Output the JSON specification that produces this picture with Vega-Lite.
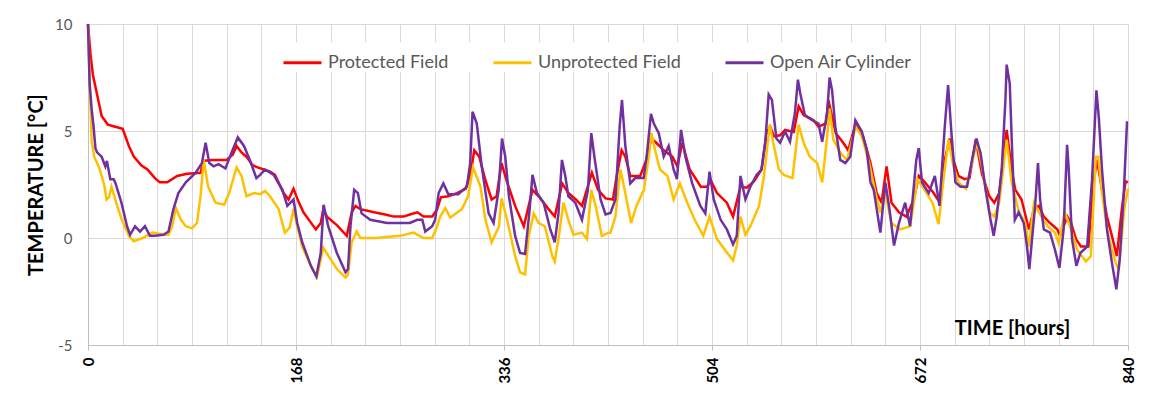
{
"$schema":"https://vega.github.io/schema/vega-lite/v6.json",
"width":1040,"height":321,
"autosize":"none",
"padding":{"left":88,"top":24,"right":37,"bottom":63},
"background":"white",
"config":{"view":{"stroke":null},"font":"Lato"},
"datasets":{
"protected":[{"hour":0,"temp":10},{"hour":2,"temp":8.6},{"hour":4,"temp":7.6},{"hour":7,"temp":6.8},{"hour":11,"temp":5.7},{"hour":16,"temp":5.3},{"hour":22,"temp":5.2},{"hour":28,"temp":5.1},{"hour":33,"temp":4.3},{"hour":37,"temp":3.8},{"hour":43,"temp":3.4},{"hour":48,"temp":3.2},{"hour":54,"temp":2.8},{"hour":58,"temp":2.6},{"hour":64,"temp":2.6},{"hour":72,"temp":2.9},{"hour":80,"temp":3.0},{"hour":91,"temp":3.05},{"hour":93,"temp":3.6},{"hour":100,"temp":3.65},{"hour":112,"temp":3.65},{"hour":117,"temp":3.9},{"hour":120,"temp":4.3},{"hour":124,"temp":4.0},{"hour":128,"temp":3.8},{"hour":133,"temp":3.4},{"hour":137,"temp":3.3},{"hour":142,"temp":3.2},{"hour":147,"temp":3.1},{"hour":151,"temp":2.95},{"hour":158,"temp":2.1},{"hour":162,"temp":1.8},{"hour":166,"temp":2.3},{"hour":170,"temp":1.7},{"hour":174,"temp":1.2},{"hour":179,"temp":0.8},{"hour":184,"temp":0.4},{"hour":188,"temp":0.7},{"hour":190,"temp":1.35},{"hour":193,"temp":1.0},{"hour":201,"temp":0.6},{"hour":209,"temp":0.1},{"hour":213,"temp":1.2},{"hour":216,"temp":1.5},{"hour":220,"temp":1.35},{"hour":231,"temp":1.2},{"hour":240,"temp":1.1},{"hour":247,"temp":1.0},{"hour":255,"temp":1.0},{"hour":260,"temp":1.1},{"hour":266,"temp":1.2},{"hour":271,"temp":1.0},{"hour":278,"temp":1.0},{"hour":282,"temp":1.35},{"hour":285,"temp":1.9},{"hour":291,"temp":1.95},{"hour":298,"temp":2.1},{"hour":305,"temp":2.3},{"hour":309,"temp":3.0},{"hour":312,"temp":4.1},{"hour":316,"temp":3.8},{"hour":321,"temp":2.7},{"hour":326,"temp":1.8},{"hour":330,"temp":1.95},{"hour":334,"temp":3.5},{"hour":338,"temp":2.7},{"hour":345,"temp":1.5},{"hour":352,"temp":0.55},{"hour":359,"temp":2.25},{"hour":364,"temp":1.95},{"hour":372,"temp":1.35},{"hour":377,"temp":1.0},{"hour":383,"temp":2.55},{"hour":388,"temp":2.1},{"hour":394,"temp":1.8},{"hour":399,"temp":1.5},{"hour":407,"temp":3.05},{"hour":412,"temp":2.25},{"hour":418,"temp":1.85},{"hour":424,"temp":1.8},{"hour":427,"temp":2.9},{"hour":431,"temp":4.1},{"hour":434,"temp":3.8},{"hour":438,"temp":2.9},{"hour":446,"temp":2.9},{"hour":451,"temp":3.65},{"hour":455,"temp":4.65},{"hour":459,"temp":4.45},{"hour":465,"temp":4.1},{"hour":472,"temp":3.8},{"hour":476,"temp":3.35},{"hour":480,"temp":4.45},{"hour":486,"temp":3.2},{"hour":495,"temp":2.4},{"hour":500,"temp":2.4},{"hour":503,"temp":2.7},{"hour":508,"temp":2.1},{"hour":516,"temp":1.65},{"hour":521,"temp":1.0},{"hour":527,"temp":2.4},{"hour":532,"temp":2.35},{"hour":538,"temp":2.65},{"hour":544,"temp":3.2},{"hour":548,"temp":4.9},{"hour":551,"temp":5.2},{"hour":554,"temp":4.75},{"hour":559,"temp":4.8},{"hour":563,"temp":5.05},{"hour":570,"temp":4.95},{"hour":574,"temp":6.15},{"hour":578,"temp":5.75},{"hour":586,"temp":5.5},{"hour":590,"temp":5.2},{"hour":596,"temp":5.35},{"hour":598,"temp":6.45},{"hour":604,"temp":4.9},{"hour":610,"temp":4.45},{"hour":614,"temp":4.1},{"hour":620,"temp":5.35},{"hour":626,"temp":4.75},{"hour":632,"temp":3.5},{"hour":637,"temp":2.1},{"hour":641,"temp":1.65},{"hour":645,"temp":3.35},{"hour":649,"temp":1.65},{"hour":655,"temp":1.2},{"hour":661,"temp":1.0},{"hour":667,"temp":1.8},{"hour":671,"temp":2.9},{"hour":676,"temp":2.6},{"hour":683,"temp":2.1},{"hour":688,"temp":1.65},{"hour":692,"temp":3.65},{"hour":696,"temp":4.65},{"hour":699,"temp":3.65},{"hour":703,"temp":2.9},{"hour":708,"temp":2.75},{"hour":712,"temp":2.8},{"hour":717,"temp":4.6},{"hour":722,"temp":3.0},{"hour":728,"temp":1.95},{"hour":732,"temp":1.65},{"hour":736,"temp":2.1},{"hour":742,"temp":5.05},{"hour":746,"temp":3.2},{"hour":749,"temp":2.25},{"hour":754,"temp":1.8},{"hour":760,"temp":0.4},{"hour":764,"temp":1.35},{"hour":768,"temp":1.5},{"hour":772,"temp":1.0},{"hour":777,"temp":0.7},{"hour":783,"temp":0.4},{"hour":785,"temp":0.1},{"hour":791,"temp":1.0},{"hour":794,"temp":0.7},{"hour":798,"temp":-0.05},{"hour":802,"temp":-0.4},{"hour":808,"temp":-0.4},{"hour":812,"temp":2.55},{"hour":815,"temp":3.65},{"hour":819,"temp":2.25},{"hour":823,"temp":1.0},{"hour":827,"temp":0.1},{"hour":831,"temp":-0.85},{"hour":835,"temp":1.35},{"hour":838,"temp":2.65},{"hour":840,"temp":2.6}],
"unprotected":[{"hour":0,"temp":10},{"hour":1,"temp":8},{"hour":3,"temp":4.5},{"hour":5,"temp":3.8},{"hour":9,"temp":3.3},{"hour":13,"temp":2.5},{"hour":15,"temp":1.8},{"hour":17,"temp":1.9},{"hour":19,"temp":2.4},{"hour":21,"temp":2.0},{"hour":23,"temp":1.6},{"hour":27,"temp":0.9},{"hour":33,"temp":0.1},{"hour":37,"temp":-0.15},{"hour":44,"temp":0.0},{"hour":52,"temp":0.25},{"hour":58,"temp":0.2},{"hour":65,"temp":0.15},{"hour":68,"temp":0.55},{"hour":71,"temp":1.4},{"hour":75,"temp":0.85},{"hour":79,"temp":0.55},{"hour":84,"temp":0.45},{"hour":88,"temp":0.7},{"hour":91,"temp":2.0},{"hour":93.5,"temp":3.65},{"hour":97,"temp":2.4},{"hour":103,"temp":1.65},{"hour":110,"temp":1.55},{"hour":114,"temp":2.1},{"hour":120,"temp":3.3},{"hour":124,"temp":2.9},{"hour":128,"temp":1.95},{"hour":134,"temp":2.1},{"hour":139,"temp":2.05},{"hour":143,"temp":2.2},{"hour":147,"temp":1.95},{"hour":154,"temp":1.35},{"hour":159,"temp":0.25},{"hour":163,"temp":0.5},{"hour":166,"temp":1.35},{"hour":169,"temp":0.55},{"hour":173,"temp":-0.4},{"hour":180,"temp":-1.3},{"hour":185,"temp":-1.8},{"hour":190,"temp":-0.45},{"hour":196,"temp":-1.0},{"hour":201,"temp":-1.45},{"hour":208,"temp":-1.85},{"hour":210,"temp":-1.7},{"hour":213,"temp":-0.2},{"hour":217,"temp":0.3},{"hour":220,"temp":0.0},{"hour":233,"temp":0.0},{"hour":252,"temp":0.1},{"hour":263,"temp":0.25},{"hour":271,"temp":0.0},{"hour":278,"temp":0.0},{"hour":282,"temp":0.55},{"hour":284.5,"temp":1.0},{"hour":288.6,"temp":1.4},{"hour":292.6,"temp":0.95},{"hour":302,"temp":1.35},{"hour":307,"temp":1.95},{"hour":311,"temp":3.3},{"hour":317,"temp":2.4},{"hour":321,"temp":0.85},{"hour":326,"temp":-0.2},{"hour":332,"temp":0.55},{"hour":334,"temp":1.85},{"hour":338.5,"temp":0.85},{"hour":345,"temp":-0.85},{"hour":349,"temp":-1.6},{"hour":353,"temp":-1.7},{"hour":356,"temp":0.1},{"hour":360,"temp":1.15},{"hour":364,"temp":0.7},{"hour":369,"temp":0.55},{"hour":375,"temp":-0.85},{"hour":377,"temp":-1.1},{"hour":380,"temp":-0.05},{"hour":384,"temp":1.65},{"hour":388,"temp":0.85},{"hour":392,"temp":0.15},{"hour":399,"temp":0.25},{"hour":403,"temp":-0.05},{"hour":406.5,"temp":2.25},{"hour":410,"temp":1.5},{"hour":415,"temp":0.1},{"hour":420.5,"temp":0.25},{"hour":422,"temp":0.25},{"hour":426,"temp":1.0},{"hour":430,"temp":3.2},{"hour":434,"temp":2.1},{"hour":438.6,"temp":0.7},{"hour":443,"temp":1.5},{"hour":449,"temp":2.25},{"hour":453,"temp":3.8},{"hour":455,"temp":4.9},{"hour":458,"temp":4.1},{"hour":462,"temp":3.2},{"hour":468,"temp":2.9},{"hour":473,"temp":1.8},{"hour":478,"temp":2.55},{"hour":484,"temp":1.65},{"hour":490,"temp":0.85},{"hour":497,"temp":0.1},{"hour":502,"temp":1.0},{"hour":508,"temp":-0.05},{"hour":515,"temp":-0.6},{"hour":521,"temp":-1.05},{"hour":524,"temp":-0.35},{"hour":527,"temp":1.0},{"hour":531,"temp":0.15},{"hour":535,"temp":0.55},{"hour":542,"temp":1.5},{"hour":546,"temp":2.9},{"hour":549,"temp":4.45},{"hour":550.6,"temp":5.3},{"hour":554,"temp":4.3},{"hour":558,"temp":3.2},{"hour":562,"temp":2.95},{"hour":569,"temp":2.8},{"hour":574,"temp":5.3},{"hour":578,"temp":4.45},{"hour":583,"temp":3.8},{"hour":589,"temp":3.5},{"hour":593,"temp":2.6},{"hour":597,"temp":4.75},{"hour":599,"temp":6.05},{"hour":602,"temp":4.6},{"hour":608,"temp":3.95},{"hour":613,"temp":3.65},{"hour":620,"temp":5.2},{"hour":625,"temp":4.75},{"hour":631,"temp":3.5},{"hour":636,"temp":2.1},{"hour":640,"temp":1.2},{"hour":644,"temp":2.1},{"hour":649,"temp":0.7},{"hour":656,"temp":0.4},{"hour":664,"temp":0.55},{"hour":670,"temp":2.75},{"hour":674,"temp":2.4},{"hour":682,"temp":1.65},{"hour":687,"temp":0.65},{"hour":691,"temp":2.75},{"hour":695,"temp":4.6},{"hour":699,"temp":3.35},{"hour":703,"temp":2.6},{"hour":709,"temp":2.3},{"hour":718,"temp":4.5},{"hour":722,"temp":3.35},{"hour":728,"temp":1.2},{"hour":732,"temp":1.0},{"hour":736,"temp":1.65},{"hour":742,"temp":4.6},{"hour":746,"temp":2.6},{"hour":752,"temp":1.2},{"hour":757,"temp":0.7},{"hour":760,"temp":-0.4},{"hour":764,"temp":1.65},{"hour":768,"temp":1.2},{"hour":775,"temp":0.55},{"hour":781,"temp":0.25},{"hour":784,"temp":-0.25},{"hour":789,"temp":1.2},{"hour":794,"temp":0.4},{"hour":799,"temp":-0.55},{"hour":806,"temp":-1.1},{"hour":810,"temp":-0.85},{"hour":814,"temp":3.8},{"hour":816,"temp":3.8},{"hour":819,"temp":2.1},{"hour":824,"temp":0.1},{"hour":830,"temp":-1.15},{"hour":832.5,"temp":-1.5},{"hour":837,"temp":1.35},{"hour":840,"temp":2.3}],
"openair":[{"hour":0,"temp":10},{"hour":1.3,"temp":7.2},{"hour":3,"temp":6.0},{"hour":4.5,"temp":5.2},{"hour":6,"temp":4.2},{"hour":7.3,"temp":4.0},{"hour":11,"temp":3.8},{"hour":14,"temp":3.35},{"hour":15.3,"temp":3.6},{"hour":18,"temp":2.75},{"hour":20.7,"temp":2.75},{"hour":22,"temp":2.6},{"hour":27,"temp":1.65},{"hour":31.5,"temp":0.55},{"hour":34,"temp":0.15},{"hour":38,"temp":0.55},{"hour":42,"temp":0.3},{"hour":46,"temp":0.55},{"hour":50,"temp":0.1},{"hour":54,"temp":0.1},{"hour":61,"temp":0.15},{"hour":65,"temp":0.3},{"hour":69,"temp":1.35},{"hour":73,"temp":2.1},{"hour":79,"temp":2.6},{"hour":87,"temp":3.05},{"hour":92,"temp":3.5},{"hour":95,"temp":4.45},{"hour":98,"temp":3.5},{"hour":101.5,"temp":3.35},{"hour":105.5,"temp":3.45},{"hour":111,"temp":3.25},{"hour":116,"temp":4.0},{"hour":121,"temp":4.7},{"hour":126,"temp":4.3},{"hour":131,"temp":3.6},{"hour":136,"temp":2.8},{"hour":139,"temp":2.95},{"hour":143,"temp":3.2},{"hour":150,"temp":2.95},{"hour":157,"temp":2.25},{"hour":161,"temp":1.5},{"hour":166,"temp":1.8},{"hour":169,"temp":0.7},{"hour":173,"temp":-0.2},{"hour":180,"temp":-1.3},{"hour":184.4,"temp":-1.8},{"hour":188,"temp":-0.7},{"hour":190.3,"temp":1.55},{"hour":194,"temp":0.55},{"hour":201,"temp":-0.7},{"hour":208,"temp":-1.6},{"hour":210,"temp":-1.45},{"hour":212,"temp":0.55},{"hour":215,"temp":2.25},{"hour":218,"temp":2.1},{"hour":221,"temp":1.15},{"hour":228,"temp":0.85},{"hour":241.5,"temp":0.7},{"hour":260,"temp":0.7},{"hour":266,"temp":0.85},{"hour":270,"temp":0.85},{"hour":272.4,"temp":0.3},{"hour":278,"temp":0.55},{"hour":280.4,"temp":0.85},{"hour":283.2,"temp":2.1},{"hour":287,"temp":2.55},{"hour":291,"temp":2.05},{"hour":299,"temp":2.05},{"hour":306,"temp":2.4},{"hour":308.7,"temp":3.5},{"hour":310.6,"temp":5.9},{"hour":314,"temp":5.35},{"hour":318,"temp":3.35},{"hour":323.6,"temp":1.15},{"hour":327.6,"temp":0.7},{"hour":331.7,"temp":2.25},{"hour":334.4,"temp":4.65},{"hour":337,"temp":3.8},{"hour":340,"temp":1.95},{"hour":345,"temp":0.1},{"hour":349,"temp":-0.7},{"hour":353,"temp":-0.75},{"hour":356.4,"temp":1.15},{"hour":359,"temp":2.95},{"hour":362.6,"temp":2.1},{"hour":368,"temp":1.65},{"hour":373.4,"temp":0.4},{"hour":377,"temp":-0.2},{"hour":380,"temp":1.15},{"hour":382.8,"temp":3.65},{"hour":385.5,"temp":2.9},{"hour":388,"temp":1.95},{"hour":393.6,"temp":1.65},{"hour":399,"temp":0.85},{"hour":403.8,"temp":2.25},{"hour":406.5,"temp":4.9},{"hour":409,"temp":3.8},{"hour":414,"temp":1.8},{"hour":418,"temp":1.1},{"hour":422,"temp":1.17},{"hour":426,"temp":1.8},{"hour":429.4,"temp":5.2},{"hour":431.3,"temp":6.45},{"hour":434,"temp":4.3},{"hour":438,"temp":2.55},{"hour":442,"temp":2.8},{"hour":448.8,"temp":2.8},{"hour":451.5,"temp":3.95},{"hour":454.7,"temp":5.8},{"hour":457,"temp":5.35},{"hour":461,"temp":4.9},{"hour":465,"temp":3.8},{"hour":469,"temp":4.3},{"hour":473,"temp":3.2},{"hour":475.7,"temp":2.75},{"hour":479,"temp":5.05},{"hour":482.5,"temp":3.8},{"hour":488,"temp":2.55},{"hour":494.6,"temp":1.5},{"hour":498.6,"temp":1.15},{"hour":502,"temp":3.1},{"hour":505.4,"temp":1.8},{"hour":511,"temp":0.85},{"hour":516,"temp":0.4},{"hour":521,"temp":-0.3},{"hour":524,"temp":0.1},{"hour":527,"temp":2.9},{"hour":531,"temp":1.8},{"hour":535,"temp":2.4},{"hour":540,"temp":2.95},{"hour":544,"temp":3.2},{"hour":547,"temp":4.45},{"hour":549.8,"temp":6.7},{"hour":552.4,"temp":6.45},{"hour":556,"temp":4.65},{"hour":559,"temp":4.45},{"hour":563,"temp":4.98},{"hour":567,"temp":4.5},{"hour":571,"temp":5.85},{"hour":573.4,"temp":7.4},{"hour":575.3,"temp":6.75},{"hour":579,"temp":5.75},{"hour":585,"temp":5.5},{"hour":590,"temp":5.35},{"hour":593,"temp":4.5},{"hour":597,"temp":5.85},{"hour":599,"temp":7.5},{"hour":601,"temp":6.9},{"hour":603.6,"temp":5.2},{"hour":607.6,"temp":3.65},{"hour":611.7,"temp":3.5},{"hour":615.7,"temp":3.8},{"hour":619.8,"temp":5.5},{"hour":625,"temp":4.98},{"hour":629,"temp":4.1},{"hour":632,"temp":2.6},{"hour":634.6,"temp":2.25},{"hour":640,"temp":0.25},{"hour":644,"temp":2.6},{"hour":647,"temp":1.5},{"hour":651,"temp":-0.35},{"hour":655,"temp":0.7},{"hour":660,"temp":1.65},{"hour":664,"temp":0.55},{"hour":669,"temp":3.65},{"hour":671,"temp":4.2},{"hour":673.6,"temp":2.6},{"hour":679,"temp":2.1},{"hour":684,"temp":2.9},{"hour":687.7,"temp":1.5},{"hour":692,"temp":5.2},{"hour":694.7,"temp":7.15},{"hour":697.4,"temp":4.9},{"hour":700.6,"temp":2.6},{"hour":704.7,"temp":2.4},{"hour":710,"temp":2.4},{"hour":714,"temp":3.65},{"hour":717.6,"temp":4.65},{"hour":721,"temp":3.95},{"hour":725,"temp":2.25},{"hour":729,"temp":0.85},{"hour":731.5,"temp":0.1},{"hour":734,"temp":1.0},{"hour":738,"temp":3.2},{"hour":741,"temp":6.45},{"hour":742,"temp":8.1},{"hour":744.5,"temp":7.2},{"hour":746.4,"temp":4.1},{"hour":748.6,"temp":0.85},{"hour":751.7,"temp":1.2},{"hour":755.8,"temp":0.7},{"hour":758.4,"temp":-0.4},{"hour":760.3,"temp":-1.45},{"hour":762.5,"temp":-0.05},{"hour":765,"temp":1.5},{"hour":767.3,"temp":3.5},{"hour":769,"temp":1.8},{"hour":772,"temp":0.4},{"hour":777,"temp":0.25},{"hour":781,"temp":-0.55},{"hour":784.6,"temp":-1.4},{"hour":788,"temp":0.4},{"hour":790.8,"temp":4.35},{"hour":792,"temp":3.35},{"hour":794.8,"temp":-0.05},{"hour":798.3,"temp":-1.3},{"hour":801.5,"temp":-0.7},{"hour":807,"temp":-0.4},{"hour":811,"temp":2.75},{"hour":814.5,"temp":6.9},{"hour":816.4,"temp":5.65},{"hour":819,"temp":3.2},{"hour":823,"temp":0.4},{"hour":827,"temp":-1.15},{"hour":830.6,"temp":-2.4},{"hour":833.3,"temp":-1.0},{"hour":836.6,"temp":2.1},{"hour":839.2,"temp":5.4},{"hour":840,"temp":5.4}]
},
"encoding":{
"x":{"field":"hour","type":"quantitative","scale":{"domain":[0,840],"nice":false,"zero":false},
 "axis":{"values":[0,28,56,84,112,140,168,196,224,252,280,308,336,364,392,420,448,476,504,532,560,588,616,644,672,700,728,756,784,812,840],
  "labelExpr":"datum.value % 168 === 0 ? datum.label : ''","labelAngle":270,"labelFontWeight":"bold","labelFontSize":15,"labelColor":"#000000","labelPadding":7,
  "tickSize":5,"tickColor":"#bfbfbf","tickOpacity":{"condition":{"test":"datum.value % 168 === 0","value":1},"value":0},
  "gridColor":"#d9d9d9","domainColor":"#bfbfbf","labelFlush":false,"labelOverlap":false,
  "title":"TIME [hours]","titleFontWeight":"bold","titleFontSize":20,"titleColor":"#000000","titleX":924,"titleY":-11,"titleAlign":"center","titleBaseline":"alphabetic"}},
"y":{"field":"temp","type":"quantitative","scale":{"domain":[-5,10],"nice":false},
 "axis":{"values":[-5,0,5,10],"labelExpr":"'' + datum.value","labelFontSize":15,"labelColor":"#595959","labelPadding":16,"ticks":false,"gridColor":"#d9d9d9","domainColor":"#bfbfbf",
  "title":"TEMPERATURE [°C]","titleFontWeight":"bold","titleFontSize":20,"titleColor":"#000000","titlePadding":8}}
},
"layer":[
{"data":{"name":"protected"},"mark":{"type":"line","strokeWidth":2.5},"encoding":{"color":{"datum":"Protected Field","type":"nominal","scale":{"domain":["Protected Field","Unprotected Field","Open Air Cylinder"],"range":["#FF0000","#FFC000","#7030A0"]},
 "legend":{"orient":"none","legendX":194,"legendY":18,"direction":"horizontal","title":null,"fillColor":"white","padding":0,"symbolType":"stroke","symbolStrokeWidth":3,"symbolSize":1444,"labelFontSize":18,"labelColor":"#595959","columnPadding":38,"labelOffset":5}}}},
{"data":{"name":"unprotected"},"mark":{"type":"line","strokeWidth":2.5},"encoding":{"color":{"datum":"Unprotected Field","type":"nominal"}}},
{"data":{"name":"openair"},"mark":{"type":"line","strokeWidth":2.5},"encoding":{"color":{"datum":"Open Air Cylinder","type":"nominal"}}}
]
}
